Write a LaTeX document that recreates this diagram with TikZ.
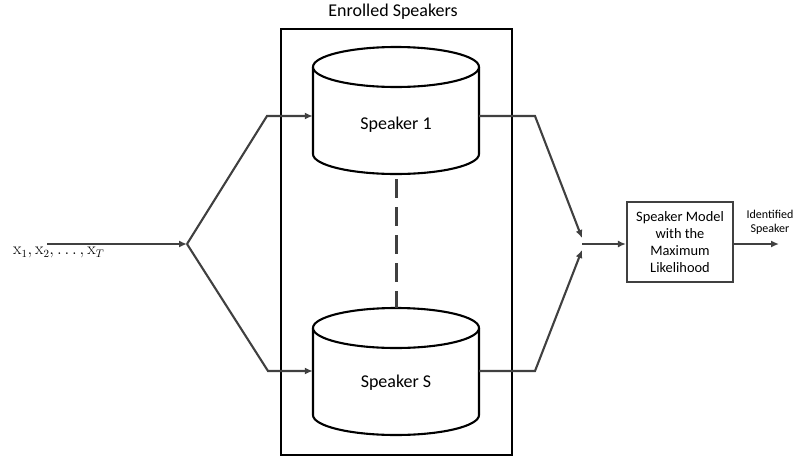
\documentclass[tikz,border=0pt]{standalone}
\usepackage[no-math]{fontspec}
\setmainfont{Carlito}
\usetikzlibrary{arrows.meta}
\definecolor{conn}{HTML}{404040}
\tikzset{
  conn/.style={draw=conn, line width=2.1pt, line join=miter},
  arr/.style={conn, -{Latex[length=8pt,width=7pt]}},
  cyl/.style={draw=black, line width=2.1pt, fill=white},
  anchornode/.style={inner sep=0pt, minimum width=166pt, minimum height=20pt},
  label/.style={font=\fontsize{18}{21}\selectfont, inner sep=0pt},
}
\begin{document}
\begin{tikzpicture}[x=1pt,y=-1pt]
\useasboundingbox (0,0) rectangle (798,461);

% enclosure
\node[draw=black, line width=2.3pt, minimum width=231pt, minimum height=426pt, inner sep=0pt] (enc) at (396.5,242) {};
\node[label] (title) at (393,12) {Enrolled Speakers};

% cylinder 1
\draw[cyl] (313,67) -- (313,154) arc[start angle=180, end angle=0, x radius=83, y radius=20] -- (479,67);
\draw[cyl] (396,67) ellipse[x radius=83, y radius=20];
\node[anchornode] (cyl1) at (396,116) {};
\node[label] (t1) at (396,125) {Speaker 1};

% cylinder S
\draw[cyl] (313,328) -- (313,415) arc[start angle=180, end angle=0, x radius=83, y radius=20] -- (479,328);
\draw[cyl] (396,328) ellipse[x radius=83, y radius=20];
\node[anchornode] (cyl2) at (396,371) {};
\node[label] (t2) at (396,383) {Speaker S};

% dashed connector
\coordinate (d1) at (396,179);
\coordinate (d2) at (396,308);
\draw[draw=conn, line width=3pt, dash pattern=on 19pt off 9pt] (d1) -- (d2);

% input
\coordinate (in) at (47,244);
\coordinate (split) at (187,244);
\node[inner sep=0pt, anchor=north west, font=\fontsize{16}{19}\selectfont] (xlab) at (13,247) {$\mathrm{x}_1,\mathrm{x}_2,\ldots,\mathrm{x}_T$};
\draw[arr] (in) -- (split);
\coordinate (u1) at (267,116);
\coordinate (l1) at (268,371);
\draw[arr] (split) -- (u1) -- (cyl1.west);
\draw[arr] (split) -- (l1) -- (cyl2.west);

% output merge
\coordinate (u2) at (535,116);
\coordinate (l2) at (535,371);
\coordinate (mu) at (582,238);
\coordinate (ml) at (582,250);
\coordinate (merge) at (582,244);
\draw[arr] (cyl1.east) -- (u2) -- (mu);
\draw[arr] (cyl2.east) -- (l2) -- (ml);

% decision box
\node[draw=conn, line width=2.1pt, minimum width=106pt, minimum height=80pt, inner sep=0pt, align=center,
      font=\fontsize{14.4}{16.9}\selectfont] (dec) at (680,242) {Speaker Model\\with the\\Maximum\\Likelihood};
\draw[arr] (merge) -- (dec.west |- merge);
\coordinate (out) at (779,244);
\draw[arr] (dec.east |- out) -- (out);
\node[align=center, inner sep=0pt, font=\fontsize{12}{14.3}\selectfont] (outlab) at (770,222) {Identified\\Speaker};
\end{tikzpicture}
\end{document}
